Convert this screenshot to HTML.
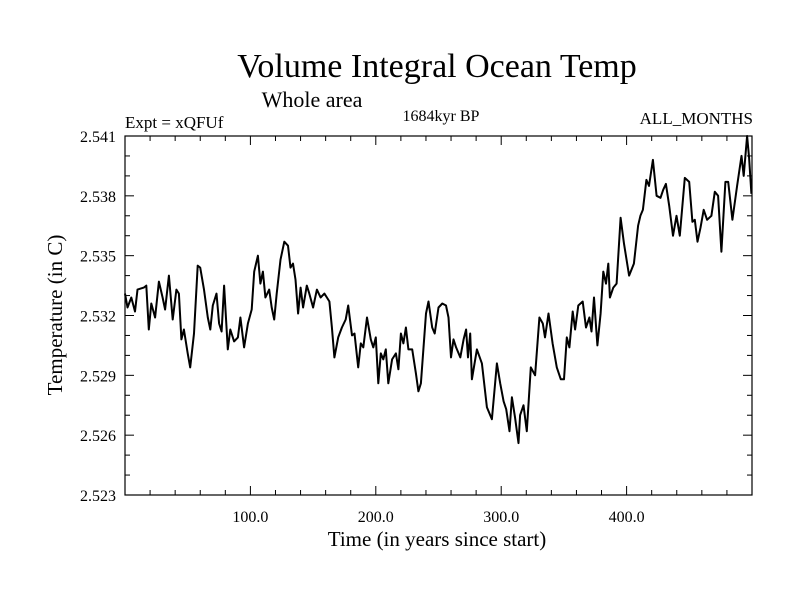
<!DOCTYPE html>
<html><head><meta charset="utf-8"><style>
body{margin:0;background:#fff}
svg{display:block;font-family:"Liberation Serif",serif}
</style></head><body>
<svg id="chart" width="800" height="600" viewBox="0 0 800 600">
<text x="437" y="77" font-size="34" text-anchor="middle">Volume Integral Ocean Temp</text>
<text x="312" y="107" font-size="22" text-anchor="middle">Whole area</text>
<text x="125" y="128" font-size="17">Expt = xQFUf</text>
<text x="441" y="121" font-size="16" text-anchor="middle">1684kyr BP</text>
<text x="753" y="124" font-size="17" text-anchor="end">ALL_MONTHS</text>
<text x="437" y="546" font-size="21" text-anchor="middle">Time (in years since start)</text>
<text x="0" y="0" font-size="21" text-anchor="middle" transform="translate(62,315) rotate(-90)">Temperature (in C)</text>
<g id="axes"></g>
<path id="series" fill="none" stroke="#000" stroke-width="2" stroke-linejoin="round"/>
<rect x="125" y="136" width="627" height="359" fill="none" stroke="#000" stroke-width="1.2"/>
</svg>
<script>
const years=[0,2,5,8,10,15,17,19,21,24,27,30,32,35,38,41,43,45,47,50,52,55,58,60,63,66,68,70,73,75,77,79,82,84,87,90,92,95,98,101,103,106,108,110,112,115,117,119,121,124,127,130,132,134,136,138,140,142,145,147,150,153,156,159,161,163,165,167,170,173,176,178,181,183,186,188,190,193,196,198,200,202,204,206,208,210,213,216,218,220,222,224,226,229,232,234,236,240,242,245,247,250,253,256,258,260,262,264,267.4,270,272,273.5,275.3,276.6,280.6,284.6,288.6,292.6,296.6,299.2,301.9,304,306.6,308.5,311,313.8,315.1,317.8,320.4,323.6,327,330.5,333.2,334.9,337.7,341,344.3,347.5,350.1,352.3,354.4,357,358.9,361.5,365,367.6,370.3,372,374,376.7,379.3,381.4,383.6,385.4,386.7,389.4,392,395.2,397.9,402,405.8,409.2,411,413,415.8,417.9,421,423.9,427,429.2,431.3,434,437,439.8,442.4,446.4,449.9,452.5,454.4,456.5,458.9,461.5,464.2,467.6,470.3,473,475.6,478.8,481,484.4,488.1,491.6,493.4,496.1,497.7,499.5];
const temps=[2.5331,2.5324,2.5329,2.5322,2.5333,2.5334,2.5335,2.5313,2.5326,2.5319,2.5337,2.5329,2.5323,2.5340,2.5318,2.5333,2.5331,2.5308,2.5313,2.5301,2.5294,2.5311,2.5345,2.5344,2.5333,2.5319,2.5313,2.5325,2.5331,2.5316,2.5312,2.5335,2.5303,2.5313,2.5307,2.5309,2.5319,2.5304,2.5316,2.5323,2.5342,2.5350,2.5336,2.5342,2.5329,2.5333,2.5324,2.5318,2.5331,2.5348,2.5357,2.5355,2.5344,2.5346,2.5338,2.5321,2.5334,2.5324,2.5335,2.5331,2.5324,2.5333,2.5329,2.5331,2.5329,2.5327,2.5314,2.5299,2.5309,2.5314,2.5318,2.5325,2.5310,2.5311,2.5294,2.5306,2.5304,2.5319,2.5308,2.5304,2.5309,2.5286,2.5301,2.5298,2.5303,2.5286,2.5298,2.5301,2.5293,2.5311,2.5306,2.5314,2.5303,2.5303,2.5291,2.5282,2.5286,2.5321,2.5327,2.5314,2.5311,2.5324,2.5326,2.5325,2.5319,2.5299,2.5308,2.5304,2.5299,2.5308,2.5313,2.5299,2.5311,2.5288,2.5303,2.5296,2.5274,2.5268,2.5296,2.5286,2.5277,2.5273,2.5262,2.5279,2.5269,2.5256,2.5270,2.5275,2.5262,2.5294,2.5290,2.5319,2.5316,2.5309,2.5321,2.5306,2.5294,2.5288,2.5288,2.5309,2.5304,2.5322,2.5313,2.5325,2.5327,2.5314,2.5319,2.5312,2.5329,2.5305,2.5321,2.5342,2.5336,2.5346,2.5329,2.5334,2.5336,2.5369,2.5356,2.5340,2.5346,2.5365,2.5370,2.5373,2.5388,2.5385,2.5398,2.5380,2.5379,2.5383,2.5386,2.5375,2.5360,2.5370,2.5360,2.5389,2.5387,2.5367,2.5368,2.5357,2.5364,2.5373,2.5368,2.5370,2.5382,2.5380,2.5352,2.5387,2.5387,2.5368,2.5385,2.5400,2.5390,2.5410,2.5399,2.5381];
const xTickLabels=["100.0","200.0","300.0","400.0"];
const xTickValues=[100,200,300,400];
const yTickLabels=["2.523","2.526","2.529","2.532","2.535","2.538","2.541"];
const yTickValues=[2.523,2.526,2.529,2.532,2.535,2.538,2.541];

const L=125,R=752,T=136,B=495,XMIN=0,XMAX=500,YMIN=2.523,YMAX=2.541;
const sx=v=>L+(v-XMIN)/(XMAX-XMIN)*(R-L);
const sy=v=>B-(v-YMIN)/(YMAX-YMIN)*(B-T);
const NS='http://www.w3.org/2000/svg';
const ax=document.getElementById('axes');
function line(x1,y1,x2,y2,name){
  const l=document.createElementNS(NS,'line');
  l.setAttribute('x1',x1);l.setAttribute('y1',y1);l.setAttribute('x2',x2);l.setAttribute('y2',y2);
  l.setAttribute('stroke','#000');l.setAttribute('stroke-width','1');
  
  
  ax.appendChild(l);
}
function text(x,y,s,anchor,name){
  const t=document.createElementNS(NS,'text');
  t.setAttribute('x',x);t.setAttribute('y',y);t.setAttribute('font-size','16');t.setAttribute('text-anchor',anchor);
  t.textContent=s;
  
  
  ax.appendChild(t);
}
for(let v=20;v<XMAX;v+=20){
  const x=sx(v),len=(v%100===0)?9:5;
  line(x,B,x,B-len,'x-tick');
  line(x,T,x,T+len,'x-tick-top');
}
for(let k=1;k<18;k++){
  const v=YMIN+k*0.001,y=sy(v),len=(k%3===0)?9:5;
  line(L,y,L+len,y,'y-tick');
  line(R,y,R-len,y,'y-tick-right');
}
xTickValues.forEach((v,i)=>text(sx(v),522,xTickLabels[i],'middle','x-tick-label'));
yTickValues.forEach((v,i)=>text(116,sy(v)+6,yTickLabels[i],'end','y-tick-label'));
let d='';
years.forEach((yr,i)=>{d+=(i?'L':'M')+sx(yr).toFixed(1)+','+sy(temps[i]).toFixed(1);});
document.getElementById('series').setAttribute('d',d);
</script>
</body></html>
